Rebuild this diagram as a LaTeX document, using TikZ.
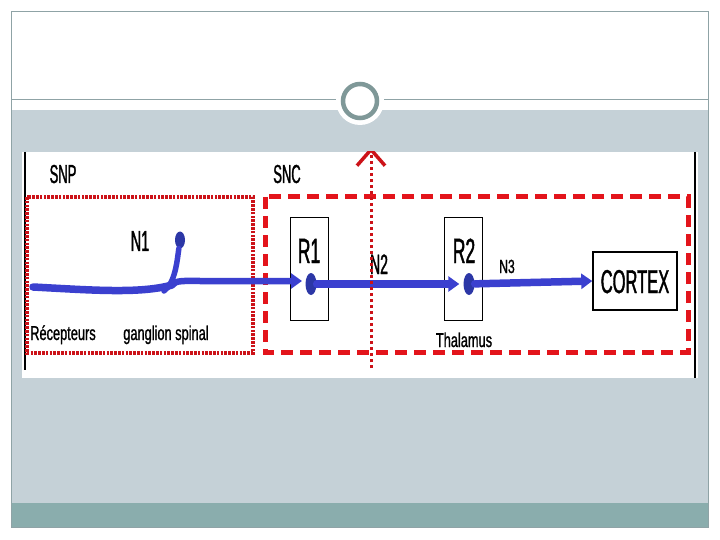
\documentclass[tikz,border=0pt]{standalone}
\usepackage{fontspec}
\setmainfont{Liberation Sans}
\newfontfamily\narrowfont[FakeStretch=0.5,FakeBold=1.2]{Liberation Sans}
\newfontfamily\smallnarrow[FakeStretch=0.64,FakeBold=1]{Liberation Sans}
\usetikzlibrary{arrows.meta,positioning,calc,shapes.geometric}
\definecolor{SlideGrey}{HTML}{C5D1D7}
\definecolor{SlideTeal}{HTML}{8AADAD}
\definecolor{FrameGrey}{HTML}{8FA3A6}
\definecolor{RingGrey}{HTML}{7F9898}
\definecolor{NerveBlue}{HTML}{3B40CF}
\definecolor{KnobBlue}{HTML}{2C37A6}
\definecolor{ZoneRed}{HTML}{E3141B}
\newcommand{\tsz}[1]{\fontsize{#1}{#1}\selectfont}

\begin{document}
\begin{tikzpicture}[x=1pt,y=-1pt,>=Latex]
    \tikzset{
      lbl/.style={font=\narrowfont\tsz{#1},anchor=base,inner sep=0pt},
      note/.style={font=\smallnarrow\tsz{#1},anchor=base,inner sep=0pt},
      relay/.style={draw=black,line width=1pt,minimum width=38pt,minimum height=102pt,inner sep=0pt},
      knob/.style={ellipse,fill=KnobBlue,minimum width=11pt,minimum height=22pt,inner sep=0pt},
      axon/.style={line width=7.5pt,draw=NerveBlue,line cap=round},
      tip/.style={-{Triangle[length=11pt,width=15pt]}},
      snp/.style={draw=ZoneRed!90!black,line width=3.4pt,dash pattern=on 2.6pt off 1.2pt},
      snc/.style={draw=ZoneRed,line width=5pt,dash pattern=on 12pt off 7pt},
      cut/.style={draw=ZoneRed!90!black,line width=3pt,dash pattern=on 3pt off 3pt}
    }
    % slide
    \useasboundingbox (0,0) rectangle (720,540);
    \fill[white] (0,0) rectangle (720,540);
    \fill[SlideGrey] (11,110) rectangle (708,503);
    \fill[SlideTeal] (11,503) rectangle (708,527);
    \draw[FrameGrey,line width=1pt] (11,12) rectangle (708,527);
    \draw[FrameGrey,line width=1pt] (11,100) -- (708,100);
    \fill[white] (360,101) circle (24);
    \draw[RingGrey,line width=4.5pt] (360,101) circle (17);
    % picture
    \fill[white] (22,152) rectangle (698,378);
    \draw[line width=2pt] (25,152) -- (25,370);
    \draw[line width=1.2pt] (695,152) -- (695,378);
    \begin{scope}
    \clip (22,152) rectangle (698,378);
    \draw[snp] (27,197) rectangle (253,353);
    \draw[snc] (265,197) rectangle (688,352);
    \node[lbl=26] (snptxt) at (63,183) {SNP};
    \node[lbl=26] (snctxt) at (287,183) {SNC};

    \node[relay] (r1box) at (309,269) {};
    \node[relay] (r2box) at (463,269) {};
    \node[draw=black,line width=1.5pt,minimum width=84pt,minimum height=58pt] (cortex) at (635,281) {};
    \node[lbl=33] at (635,293) {CORTEX};
    \node[lbl=35] (r1) at (309,263) {R1};
    \node[lbl=35] (r2) at (464,263) {R2};
    \node[lbl=29] (n1) at (140,251) {N1};
    \node[lbl=28] (n2) at (379,274) {N2};
    \node[note=19] (n3) at (507,273) {N3};
    \node[note=20] (recep) at (63,340) {Récepteurs};
    \node[note=20] (ganglion) at (166,340) {ganglion spinal};
    \node[note=20] (thal) at (464,347) {Thalamus};

    \node[knob,minimum height=17pt,minimum width=10pt] (soma) at (180,240) {};
    \node[knob] (b1) at (311,284) {};
    \node[knob] (b2) at (469,284) {};
    \coordinate (rec) at (33,287);
    \coordinate (junc) at (172,285);

    \draw[axon] (rec) .. controls (90,290) and (140,294) .. (junc);
    \draw[axon,line width=5.5pt] (164,291) .. controls (175,283) and (177,262) .. (soma);
    \draw[axon,line width=6.5pt,tip] (junc) .. controls (176,280) and (185,281) .. (200,281) -- (302,281);
    \draw[axon,tip] (b1) -- ($(b2.west)+(-4,0)$);
    \draw[axon,tip] (b2) -- (cortex.west);

    \draw[cut,-{Straight Barb[length=16pt,width=28pt,line width=3.5pt]}] (371,368) -- (371,147);
    \end{scope}
  \end{tikzpicture}
\end{document}
